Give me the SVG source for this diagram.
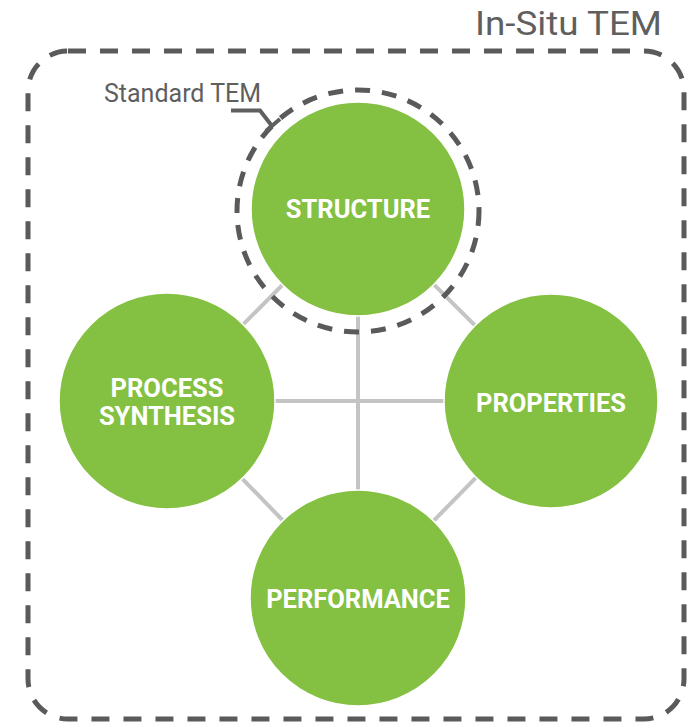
<svg xmlns="http://www.w3.org/2000/svg" width="689" height="725" viewBox="0 0 689 725">
  <style>
    .frame { fill: none; stroke: #5a5a5a; stroke-width: 5; stroke-dasharray: 18 14; }
    .link { stroke: #c4c4c4; stroke-width: 4; fill: none; }
    .node { fill: #84c041; stroke: #ffffff; stroke-width: 1.5; }
    .label { font-family: Roboto, "Liberation Sans", sans-serif; font-weight: bold; font-size: 25.5px; fill: #ffffff; text-anchor: middle; }
    .note { font-family: Roboto, "Liberation Sans", sans-serif; fill: #5f5f5f; }
  </style>
  <rect width="689" height="725" fill="#ffffff"/>

  <!-- outer in-situ boundary -->
  <g id="in-situ-frame">
    <rect class="frame" x="28" y="51" width="656" height="668" rx="40" ry="40"/>
    <text class="note" x="475" y="35" font-size="33" textLength="187" lengthAdjust="spacingAndGlyphs">In-Situ TEM</text>
  </g>

  <!-- connectors between the four nodes -->
  <g id="connectors">
    <line class="link" x1="358" y1="209" x2="167" y2="401"/>
    <line class="link" x1="358" y1="209" x2="551" y2="401"/>
    <line class="link" x1="167" y1="401" x2="358" y2="598"/>
    <line class="link" x1="551" y1="401" x2="358" y2="598"/>
    <line class="link" x1="358" y1="209" x2="358" y2="598"/>
    <line class="link" x1="167" y1="401" x2="551" y2="401"/>
  </g>

  <g id="structure">
    <circle class="node" cx="358" cy="209" r="107"/>
    <text class="label" x="358" y="218.3">STRUCTURE</text>
  </g>
  <g id="process-synthesis">
    <circle class="node" cx="167" cy="401" r="108"/>
    <text class="label" x="167" y="396.6">PROCESS</text>
    <text class="label" x="167" y="425">SYNTHESIS</text>
  </g>
  <g id="properties">
    <circle class="node" cx="551" cy="401" r="107"/>
    <text class="label" x="551" y="411.6">PROPERTIES</text>
  </g>
  <g id="performance">
    <circle class="node" cx="358" cy="598" r="108"/>
    <text class="label" x="358" y="607.6">PERFORMANCE</text>
  </g>

  <!-- standard TEM boundary around structure -->
  <g id="standard-tem">
    <circle cx="358" cy="211" r="121" fill="none" stroke="#5a5a5a" stroke-width="5" stroke-dasharray="15 12"/>
    <text class="note" x="104" y="101.6" font-size="25">Standard TEM</text>
    <polyline points="231,110.5 260,110.5 272,126" fill="none" stroke="#5f5f5f" stroke-width="4"/>
    <line x1="266" y1="131" x2="280" y2="119" stroke="#5f5f5f" stroke-width="4"/>
  </g>
</svg>
